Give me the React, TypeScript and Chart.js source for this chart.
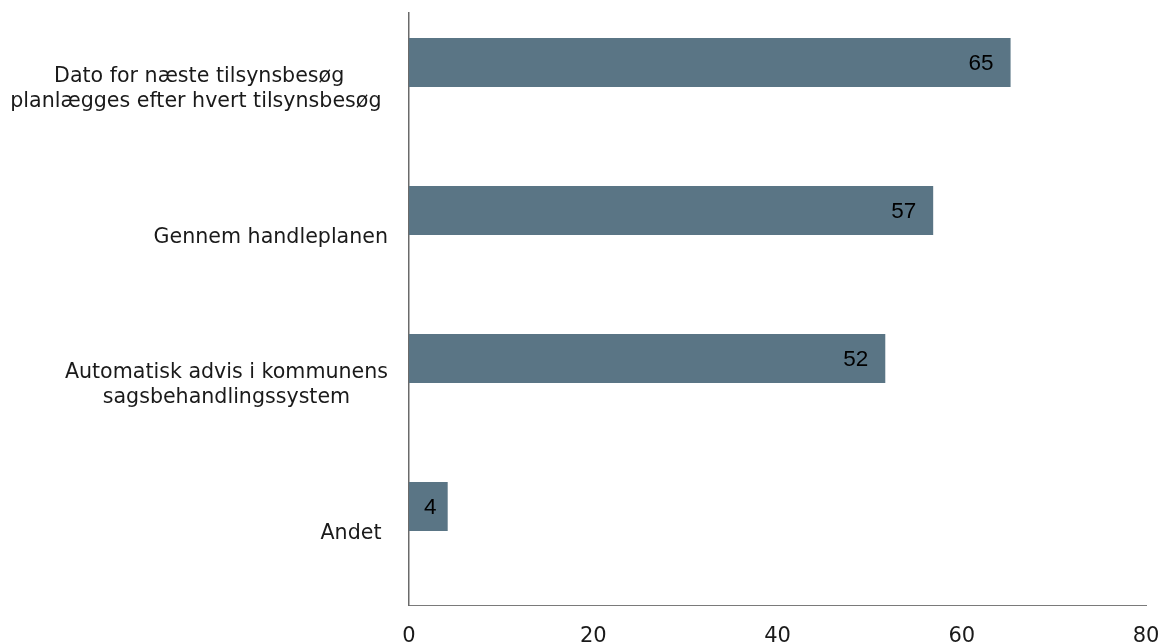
import React, { useEffect, useRef } from "react";
import { Chart, registerables } from "chart.js";

Chart.register(...registerables);

const categoryLines: string[][] = [
  ["Dato for næste tilsynsbesøg", "planlægges efter hvert tilsynsbesøg "],
  ["Gennem handleplanen"],
  ["Automatisk advis i kommunens", "sagsbehandlingssystem"],
  ["Andet "],
];
const values: number[] = [65.3, 56.9, 51.7, 4.2];
const valueLabels: string[] = ["65", "57", "52", "4"];
const emptySeries: (number | null)[] = [null, null, null, null];
const xTicks: number[] = [0, 20, 40, 60, 80];

const BAR_COLOR = "#5a7585";
const TEXT_COLOR = "#1a1a1a";

const categoryLabelPlugin = {
  id: "categoryLabels",
  afterDraw(chart: any) {
    const ctx = chart.ctx;
    const yScale = chart.scales.y;
    const right = chart.chartArea.left - 21;
    ctx.save();
    ctx.font = "20.6px 'DejaVu Sans'";
    ctx.fillStyle = TEXT_COLOR;
    ctx.textBaseline = "alphabetic";
    ctx.textAlign = "left";
    const lh = 25;
    categoryLines.forEach((lines, i) => {
      const cy = yScale.getPixelForValue(i);
      const maxW = Math.max(...lines.map((l) => ctx.measureText(l).width));
      const cx = right - maxW / 2;
      lines.forEach((line, j) => {
        const w = ctx.measureText(line).width;
        const y = cy - ((lines.length - 1) * lh) / 2 + j * lh + 7.8;
        ctx.fillText(line, cx - w / 2, y);
      });
    });
    ctx.restore();
  },
};

const valueLabelPlugin = {
  id: "valueLabels",
  afterDatasetsDraw(chart: any) {
    const ctx = chart.ctx;
    const meta = chart.getDatasetMeta(0);
    ctx.save();
    ctx.font = "22.5px 'Liberation Sans', Arial, sans-serif";
    ctx.fillStyle = "#000000";
    ctx.textBaseline = "middle";
    meta.data.forEach((bar: any, i: number) => {
      const text = valueLabels[i];
      const w = ctx.measureText(text).width;
      const gap = 17;
      const barW = bar.x - bar.base;
      if (barW < w + 2 * gap) {
        ctx.textAlign = "center";
        ctx.fillText(text, (bar.x + bar.base) / 2 + 2, bar.y + 1);
      } else {
        ctx.textAlign = "right";
        ctx.fillText(text, bar.x - gap, bar.y + 1);
      }
    });
    ctx.restore();
  },
};

export default function App() {
  const canvasRef = useRef<HTMLCanvasElement | null>(null);

  useEffect(() => {
    document.body.style.margin = "0";
    const canvas = canvasRef.current;
    if (!canvas) return;
    const chart = new Chart(canvas, {
      type: "bar",
      data: {
        labels: categoryLines.map((l) => l.join(" ")),
        datasets: [
          {
            data: values,
            backgroundColor: BAR_COLOR,
            borderWidth: 0,
            categoryPercentage: 0.6622,
            barPercentage: 1,
          },
          {
            data: emptySeries,
            backgroundColor: BAR_COLOR,
            borderWidth: 0,
            categoryPercentage: 0.6622,
            barPercentage: 1,
          },
        ],
      },
      options: {
        indexAxis: "y",
        responsive: false,
        animation: false,
        devicePixelRatio: 1,
        layout: { padding: { top: 13, right: 17, left: 0, bottom: 0 } },
        plugins: {
          legend: { display: false },
          tooltip: { enabled: false },
        },
        scales: {
          x: {
            type: "linear",
            min: 0,
            max: 80,
            afterBuildTicks: (scale: any) => {
              scale.ticks = xTicks.map((v) => ({ value: v }));
            },
            afterFit: (scale: any) => {
              scale.height = 39;
              scale.paddingLeft = 0;
              scale.paddingRight = 0;
            },
            grid: { display: false },
            border: { display: true, color: "#7a7a7a", width: 1 },
            ticks: {
              padding: 11,
              color: TEXT_COLOR,
              font: { family: "'DejaVu Sans'", size: 21 },
              maxRotation: 0,
            },
          },
          y: {
            type: "category",
            afterFit: (scale: any) => {
              scale.width = 409;
              scale.paddingTop = 0;
              scale.paddingBottom = 0;
            },
            grid: { display: false },
            border: { display: true, color: "#6a6a6a", width: 1.5 },
            ticks: { display: false },
          },
        },
      } as any,
      plugins: [categoryLabelPlugin, valueLabelPlugin],
    });
    return () => chart.destroy();
  }, []);

  return (
    <div style={{ position: "absolute", left: 0, top: 0, width: 1163, height: 644, background: "#ffffff" }}>
      <canvas ref={canvasRef} width={1163} height={644} style={{ width: 1163, height: 644, display: "block" }} />
    </div>
  );
}
